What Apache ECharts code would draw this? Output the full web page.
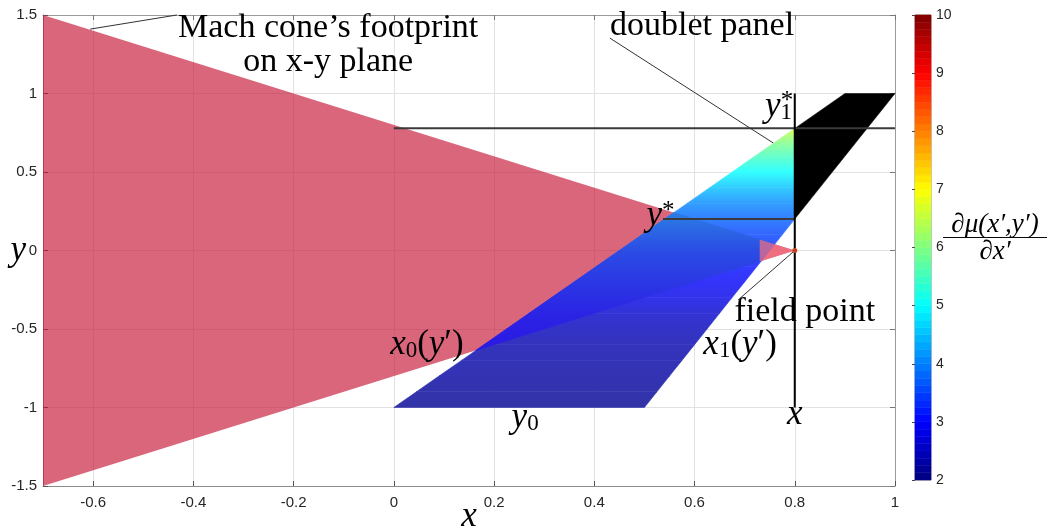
<!DOCTYPE html>
<html><head><meta charset="utf-8">
<script src="https://cdn.jsdelivr.net/npm/echarts@6/dist/echarts.min.js"></script>
<style>html,body{margin:0;padding:0;background:#fff}#c{width:1053px;height:531px}</style>
</head><body><div id="c"></div>
<script>
// ---------------- data ----------------
const xRange = [-0.7, 1];
const yRange = [-1.5, 1.5];
const xTickStep = 0.2;
const yTickStep = 0.5;
const cbRange = [2, 10];
const cbTickStep = 1;
const cbLevels = 64;

const coneVertices = [[-0.7, 1.5], [0.8, 0], [-0.7, -1.5]];
const coneTipFromX = 0.73;
const panelCorners = [[0, -1], [0.5, -1], [1, 1], [0.9, 1]];
const fieldPoint = [0.8, 0];
const cutX = 0.8;
const yStar = 0.2;
const y1Star = 0.778;

const bandY            = [-1.0,-0.9,-0.8,-0.7,-0.6,-0.5,-0.4,-0.3,-0.2,-0.1, 0.0, 0.1, 0.2, 0.3, 0.4, 0.5, 0.6, 0.7, 0.778];
const valueOutsideCone = [2.15,2.2, 2.25,2.3, 2.35,2.45,2.6, 2.8, 2.95,3.1, 3.3, 3.5, 3.75,4.05,4.5, 5.0, 5.5, 6.05,6.6];
const valueInsideCone  = [2.9, 2.95,3.0, 3.0, 3.05,3.1, 3.15,3.25,3.35,3.45,3.55,3.75,3.95,4.1, 4.5, 5.0, 5.5, 6.05,6.6];

const refLines = [
  { id: 'y1star', pts: [[0, y1Star], [1, y1Star]], color: '#3a3a3a', width: 2 },
  { id: 'ystar',  pts: [[0.537, yStar], [0.8, yStar]], color: '#3a3a3a', width: 2 },
  { id: 'xline',  pts: [[0.8, 1], [0.8, -1]], color: '#000000', width: 2 },
  { id: 'leadMach',  pts: [[-0.606, 1.41], [-0.433, 1.5]], color: '#333333', width: 1 },
  { id: 'leadPanel', pts: [[0.431, 1.353], [0.757, 0.685]], color: '#333333', width: 1 },
  { id: 'leadField', pts: [[0.687, -0.315], [0.8, 0]], color: '#333333', width: 1 }
];

const xTickLabels = ['-0.6','-0.4','-0.2','0','0.2','0.4','0.6','0.8','1'];
const annotations = [
  { text: 'Mach cone’s footprint', at: [-0.131, 1.417], align: 'center', style: 'roman' },
  { text: 'on x-y plane',          at: [-0.131, 1.200], align: 'center', style: 'roman' },
  { text: 'doublet panel',         at: [0.615, 1.430],  align: 'center', style: 'roman' },
  { text: 'field point',           at: [0.820, -0.392], align: 'center', style: 'roman' },
  { text: '{m|x}{s|0}{r|(}{m|y}{r|′)}', at: [0.066, -0.602], align: 'center', style: 'math' },
  { text: '{m|x}{s|1}{r|(}{m|y}{r|′)}', at: [0.691, -0.602], align: 'center', style: 'math' },
  { text: '{m|y}{s|0}',            at: [0.262, -1.067], align: 'center', style: 'math' },
  { text: '{m|x}',                 at: [0.800, -1.048], align: 'center', style: 'math' },
  { text: '{m|y}{s|1}',            at: [0.7945, 0.914], align: 'right', style: 'math' },
  { text: '*',                     at: [0.7845, 0.950], align: 'center', style: 'star' },
  { text: '{m|y}{p|*}',            at: [0.560, 0.220],  align: 'right', style: 'math' }
];

// ---------------- helpers ----------------
function clipLine(poly, a, b, c) { // keep a*x+b*y <= c
  const out = [];
  for (let i = 0; i < poly.length; i++) {
    const P = poly[i], Q = poly[(i + 1) % poly.length];
    const fp = a * P[0] + b * P[1] - c, fq = a * Q[0] + b * Q[1] - c;
    if (fp <= 0) out.push(P);
    if ((fp < 0 && fq > 0) || (fp > 0 && fq < 0)) {
      const t = fp / (fp - fq);
      out.push([P[0] + t * (Q[0] - P[0]), P[1] + t * (Q[1] - P[1])]);
    }
  }
  return out;
}
function clipConvex(poly, conv) {
  let cx = 0, cy = 0;
  conv.forEach(p => { cx += p[0]; cy += p[1]; });
  cx /= conv.length; cy /= conv.length;
  let res = poly;
  for (let i = 0; i < conv.length && res.length; i++) {
    const U = conv[i], V = conv[(i + 1) % conv.length];
    let a = V[1] - U[1], b = -(V[0] - U[0]);
    let c = a * U[0] + b * U[1];
    if (a * cx + b * cy > c) { a = -a; b = -b; c = -c; }
    res = clipLine(res, a, b, c);
  }
  return res;
}
function jet(v) {
  const t = (v - cbRange[0]) / (cbRange[1] - cbRange[0]);
  const c = x => Math.max(0, Math.min(1, x));
  return [c(1.5 - Math.abs(4 * t - 3)), c(1.5 - Math.abs(4 * t - 2)), c(1.5 - Math.abs(4 * t - 1))].map(x => x * 255);
}
const coneRGBA = [197, 20, 51, 0.65];
const coneOverWhite = coneRGBA.slice(0, 3).map(c => coneRGBA[3] * c + (1 - coneRGBA[3]) * 255);
const panelAlpha = 0.8;
function mix(fg, bg, a) {
  const m = fg.map((c, k) => Math.round(a * c + (1 - a) * bg[k]));
  return 'rgb(' + m.join(',') + ')';
}
const outsideColor = v => mix(jet(v), [255, 255, 255], panelAlpha);
const insideColor = v => mix(jet(v), coneOverWhite, panelAlpha);
function bandPolygon(ya, yb) {
  let p = clipLine(panelCorners, 1, 0, cutX);
  p = clipLine(p, 0, -1, -ya);
  p = clipLine(p, 0, 1, yb);
  return p;
}

const serif = '"Liberation Serif", "DejaVu Serif", serif';
const sans = '"Liberation Sans", Arial, Helvetica, sans-serif';
const mathRich = {
  m: { fontFamily: serif, fontStyle: 'italic', fontSize: 35, lineHeight: 34, color: '#000' },
  r: { fontFamily: serif, fontSize: 35, lineHeight: 34, color: '#000' },
  s: { fontFamily: serif, fontSize: 23, lineHeight: 15, verticalAlign: 'bottom', color: '#000' },
  p: { fontFamily: serif, fontSize: 25, lineHeight: 14, verticalAlign: 'top', color: '#000' }
};

const chart = echarts.init(document.getElementById('c'), null, { renderer: 'canvas' });

function gradFill(api, ya, yb, c0, c1) {
  const p0 = api.coord([0, ya]), p1 = api.coord([0, yb]);
  return new echarts.graphic.LinearGradient(0, p0[1], 0, p1[1], [{ offset: 0, color: c0 }, { offset: 1, color: c1 }], true);
}

const bandData = bandY.slice(0, -1).map((y, i) => [0, 0, i]);

const option = {
  animation: false,
  backgroundColor: '#ffffff',
  grid: [
    { left: 43, top: 15, width: 852, height: 471, show: false, containLabel: false, outerBoundsMode: 'none' },
    { left: 915, top: 15, width: 16, height: 465, show: true, borderColor: '#8c8c8c', borderWidth: 1, containLabel: false, outerBoundsMode: 'none' }
  ],
  xAxis: [
    { type: 'value', gridIndex: 0, min: xRange[0], max: xRange[1], minInterval: xTickStep, maxInterval: xTickStep,
      position: 'bottom', name: 'x', nameLocation: 'middle', nameGap: 13, nameMoveOverlap: false,
      nameTextStyle: { fontFamily: serif, fontStyle: 'italic', fontSize: 35, color: '#000' },
      axisLine: { show: true, onZero: false, lineStyle: { color: '#8c8c8c', width: 1 } },
      axisTick: { show: true, inside: true, length: 5, lineStyle: { color: '#555' } },
      axisLabel: { showMinLabel: false, margin: 9, fontFamily: sans, fontSize: 15, color: '#262626',
        formatter: v => { const s = xTickLabels.find(t => Math.abs(parseFloat(t) - v) < 1e-6); return s === undefined ? '' : s; } },
      splitLine: { show: true, lineStyle: { color: '#e2e2e2', width: 1 } } },
    { type: 'value', gridIndex: 0, min: xRange[0], max: xRange[1], minInterval: xTickStep, maxInterval: xTickStep,
      position: 'top',
      axisLine: { show: true, onZero: false, lineStyle: { color: '#9a9a9a', width: 1 } },
      axisTick: { show: true, inside: true, length: 5, lineStyle: { color: '#777' } },
      axisLabel: { show: false }, splitLine: { show: false } },
    { type: 'value', gridIndex: 1, min: 0, max: 1, show: false }
  ],
  yAxis: [
    { type: 'value', gridIndex: 0, min: yRange[0], max: yRange[1], interval: yTickStep,
      name: 'y', nameLocation: 'middle', nameRotate: 0, nameGap: 17, nameMoveOverlap: false,
      nameTextStyle: { fontFamily: serif, fontStyle: 'italic', fontSize: 35, color: '#000', padding: [6, 0, 0, 0] },
      axisLine: { show: true, onZero: false, lineStyle: { color: '#8c8c8c', width: 1 } },
      axisTick: { show: true, inside: true, length: 5, lineStyle: { color: '#555' } },
      axisLabel: { margin: 6, fontFamily: sans, fontSize: 15, color: '#262626' },
      splitLine: { show: true, lineStyle: { color: '#e2e2e2', width: 1 } } },
    { type: 'value', gridIndex: 0, min: yRange[0], max: yRange[1], interval: yTickStep, position: 'right',
      axisLine: { show: true, onZero: false, lineStyle: { color: '#9a9a9a', width: 1 } },
      axisTick: { show: true, inside: true, length: 5, lineStyle: { color: '#777' } },
      axisLabel: { show: false }, splitLine: { show: false } },
    { type: 'value', gridIndex: 1, min: cbRange[0], max: cbRange[1], interval: cbTickStep, position: 'right',
      name: '{n|∂μ(x′,y′)}\n{hr|}\n{d|∂x′}', nameLocation: 'middle', nameRotate: 0, nameGap: 12, nameMoveOverlap: false,
      nameTextStyle: { align: 'left', verticalAlign: 'middle', padding: [0, 0, 18, 0],
        rich: {
          n: { fontFamily: serif, fontStyle: 'italic', fontSize: 27, lineHeight: 26, width: 104, align: 'center', color: '#000' },
          hr: { borderColor: '#000', width: 104, borderWidth: 0.8, height: 0 },
          d: { fontFamily: serif, fontStyle: 'italic', fontSize: 27, lineHeight: 28, width: 104, align: 'center', color: '#000' }
        } },
      axisLine: { show: false },
      axisTick: { show: true, inside: true, length: 3, lineStyle: { color: '#444' } },
      axisLabel: { margin: 5, fontFamily: sans, fontSize: 14, color: '#262626' },
      splitLine: { show: false } }
  ],
  series: [
    { type: 'custom', xAxisIndex: 0, yAxisIndex: 0, z: 2, silent: true, data: [[0, 0]],
      renderItem: (params, api) => ({ type: 'polygon', shape: { points: coneVertices.map(p => api.coord(p)) },
        style: { fill: 'rgba(' + coneRGBA.join(',') + ')' } }) },
    { type: 'custom', xAxisIndex: 0, yAxisIndex: 0, z: 3, silent: true, data: bandData,
      renderItem: (params, api) => {
        const i = params.dataIndex, ya = bandY[i], yb = bandY[i + 1];
        const poly = bandPolygon(ya, yb);
        if (poly.length < 3) return null;
        const g = gradFill(api, ya, yb, outsideColor(valueOutsideCone[i]), outsideColor(valueOutsideCone[i + 1]));
        return { type: 'polygon', shape: { points: poly.map(p => api.coord(p)) }, style: { fill: g, stroke: g, lineWidth: 0.6 } };
      } },
    { type: 'custom', xAxisIndex: 0, yAxisIndex: 0, z: 4, silent: true, data: bandData,
      renderItem: (params, api) => {
        const i = params.dataIndex, ya = bandY[i], yb = bandY[i + 1];
        const poly = clipConvex(bandPolygon(ya, yb), coneVertices);
        if (poly.length < 3) return null;
        const g = gradFill(api, ya, yb, insideColor(valueInsideCone[i]), insideColor(valueInsideCone[i + 1]));
        return { type: 'polygon', shape: { points: poly.map(p => api.coord(p)) }, style: { fill: g, stroke: g, lineWidth: 0.6 } };
      } },
    { type: 'custom', xAxisIndex: 0, yAxisIndex: 0, z: 4, silent: true, data: [[0, 0]],
      renderItem: (params, api) => ({ type: 'polygon',
        shape: { points: clipLine(panelCorners, -1, 0, -cutX).map(p => api.coord(p)) },
        style: { fill: '#000', stroke: '#000', lineWidth: 0.5 } }) },
    { type: 'custom', xAxisIndex: 0, yAxisIndex: 0, z: 5, silent: true, data: [[0, 0]],
      renderItem: (params, api) => ({ type: 'polygon',
        shape: { points: clipLine(coneVertices, -1, 0, -coneTipFromX).map(p => api.coord(p)) },
        style: { fill: 'rgba(246,112,128,0.7)' } }) },
    { type: 'custom', xAxisIndex: 0, yAxisIndex: 0, z: 6, silent: true, data: refLines.map((l, i) => [0, 0, i]),
      renderItem: (params, api) => {
        const l = refLines[params.dataIndex];
        return { type: 'polyline', shape: { points: l.pts.map(p => api.coord(p)) },
          style: { stroke: l.color, lineWidth: l.width, fill: null } };
      } },
    { type: 'custom', xAxisIndex: 0, yAxisIndex: 0, z: 7, silent: true, data: [fieldPoint],
      renderItem: (params, api) => { const c = api.coord(fieldPoint);
        return { type: 'circle', shape: { cx: c[0], cy: c[1], r: 2.5 }, style: { fill: '#c8401a' } }; } },
    { type: 'custom', xAxisIndex: 0, yAxisIndex: 0, z: 8, silent: true, data: annotations.map((a, i) => [0, 0, i]),
      renderItem: (params, api) => {
        const a = annotations[params.dataIndex];
        const c = api.coord(a.at);
        let style;
        if (a.style === 'roman') {
          style = { text: a.text, fontFamily: serif, fontSize: 34, fill: '#000', align: a.align, verticalAlign: 'middle' };
        } else if (a.style === 'star') {
          style = { text: a.text, fontFamily: serif, fontSize: 25, fill: '#000', align: a.align, verticalAlign: 'middle' };
        } else {
          style = { text: a.text, rich: mathRich, fontFamily: serif, fontSize: 35, fill: '#000', align: a.align, verticalAlign: 'middle' };
        }
        return { type: 'text', x: c[0], y: c[1], style: style };
      } },
    { type: 'custom', xAxisIndex: 2, yAxisIndex: 2, z: 2, silent: true,
      data: Array.from({ length: cbLevels }, (_, i) => [0, 0, i]),
      renderItem: (params, api) => {
        const i = params.dataIndex;
        const v0 = cbRange[0] + (cbRange[1] - cbRange[0]) * i / cbLevels;
        const v1 = cbRange[0] + (cbRange[1] - cbRange[0]) * (i + 1) / cbLevels;
        const p0 = api.coord([0, v0]), p1 = api.coord([1, v1]);
        const col = mix(jet((v0 + v1) / 2), [255, 255, 255], 1);
        return { type: 'rect', shape: { x: p0[0], y: p1[1], width: p1[0] - p0[0], height: p0[1] - p1[1] },
          style: { fill: col, stroke: col, lineWidth: 0.5 } };
      } }
  ]
};
chart.setOption(option);
</script>
</body></html>
